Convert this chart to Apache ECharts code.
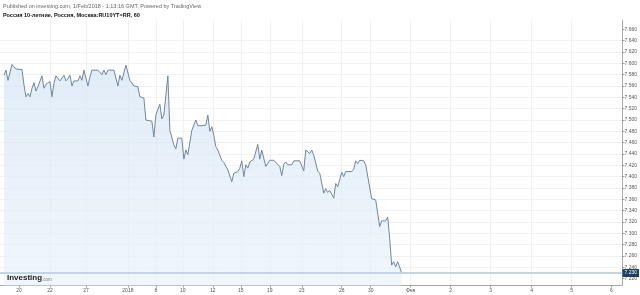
<!DOCTYPE html>
<html><head><meta charset="utf-8">
<script src="https://cdn.jsdelivr.net/npm/echarts@6/dist/echarts.min.js"></script>
<style>html,body{margin:0;padding:0;background:#fff}#c{width:640px;height:295px}</style>
</head><body><div id="c"></div>
<script>
// hourly bar index and yield value (RU10YT=RR, 60)
const barIndex = [2,3,4,6,7,8,11,12,13,14,15,16,17,18,19,21,22,23,25,26,27,28,30,31,32,33,34,35,36,37,39,40,41,42,43,44,45,46,49,51,52,53,54,57,59,60,61,63,65,66,67,69,70,72,73,76,77,78,80,81,82,83,84,85,87,88,89,91,92,93,94,95,96,98,99,101,103,104,105,106,107,108,109,111,112,114,116,117,119,120,121,122,123,124,125,127,128,129,130,131,132,133,135,137,138,140,141,142,143,144,146,147,150,152,153,155,156,157,159,160,162,163,164,165,167,168,169,171,172,173,176,177,178,179,180,182,183,184,186,188,190,191,193,194,195,196,197,198,199,201];
const yieldValues = [7.579,7.588,7.570,7.598,7.597,7.590,7.589,7.562,7.541,7.547,7.541,7.556,7.566,7.551,7.559,7.578,7.556,7.563,7.568,7.541,7.565,7.578,7.569,7.570,7.579,7.569,7.573,7.579,7.560,7.569,7.569,7.578,7.570,7.588,7.585,7.560,7.576,7.588,7.588,7.580,7.588,7.580,7.588,7.588,7.560,7.579,7.570,7.597,7.570,7.568,7.560,7.559,7.541,7.539,7.500,7.498,7.470,7.509,7.528,7.502,7.509,7.512,7.578,7.482,7.456,7.449,7.468,7.468,7.431,7.447,7.439,7.441,7.482,7.500,7.490,7.490,7.491,7.509,7.480,7.488,7.473,7.453,7.447,7.429,7.425,7.412,7.391,7.406,7.409,7.415,7.428,7.400,7.421,7.415,7.426,7.431,7.431,7.457,7.431,7.447,7.447,7.418,7.429,7.429,7.428,7.418,7.402,7.422,7.426,7.421,7.421,7.428,7.428,7.410,7.447,7.441,7.447,7.438,7.410,7.406,7.371,7.379,7.372,7.376,7.362,7.388,7.382,7.408,7.400,7.409,7.409,7.413,7.428,7.423,7.429,7.428,7.421,7.421,7.361,7.359,7.312,7.322,7.322,7.329,7.291,7.244,7.250,7.241,7.250,7.230];
const xTickPos = [9.5,25,43,64,78,91.5,106.5,120.5,135,151,171,185.5,205.5,225.5,245.5,266,286,306];
const xTickLabels = ['20','22','27','2018','8','10','12','15','19','23','26','30','Фев','2','3','4','5','6'];
const yTickValues = [7.22,7.24,7.26,7.28,7.30,7.32,7.34,7.36,7.38,7.40,7.42,7.44,7.46,7.48,7.50,7.52,7.54,7.56,7.58,7.60,7.62,7.64,7.66];
const lastPrice = 7.230;

const seriesData = barIndex.map((b, i) => [b, yieldValues[i]]);
const chart = echarts.init(document.getElementById('c'), null, {renderer: 'canvas'});
const font = '"Liberation Sans", Arial, sans-serif';
chart.setOption({
  animation: false,
  backgroundColor: '#fff',
  grid: {left: 0, top: 20, width: 623, height: 265.5, containLabel: false},
  xAxis: {
    type: 'value', min: 0, max: 311.5,
    axisLine: {show: true, onZero: false, lineStyle: {color: '#a8a8a8', width: 1}},
    axisTick: {show: true, customValues: xTickPos, length: 2, lineStyle: {color: '#999'}},
    axisLabel: {
      customValues: xTickPos, fontSize: 5, color: '#555', margin: 3, fontFamily: font,
      formatter: v => { const i = xTickPos.indexOf(v); return i >= 0 ? xTickLabels[i] : ''; }
    },
    splitLine: {show: true, showMinLine: false, showMaxLine: false, lineStyle: {color: '#f1f1f1', width: 1}}
  },
  yAxis: {
    type: 'value', position: 'right', min: 7.208, max: 7.6765,
    axisLine: {show: true, onZero: false, lineStyle: {color: '#a8a8a8', width: 1}},
    axisTick: {show: true, customValues: yTickValues, length: 2, lineStyle: {color: '#999'}},
    axisLabel: {
      customValues: yTickValues, fontSize: 5, color: '#555', margin: 2, fontFamily: font,
      formatter: v => v.toFixed(3)
    },
    splitLine: {show: true, showMinLine: false, showMaxLine: false, lineStyle: {color: '#f1f1f1', width: 1}}
  },
  series: [{
    type: 'line', data: seriesData, symbol: 'none', smooth: false,
    lineStyle: {color: '#6f879f', width: 1},
    areaStyle: {origin: 'start', color: new echarts.graphic.LinearGradient(0, 0, 0, 1, [
      {offset: 0, color: '#d6e5f4'}, {offset: 1, color: '#e9f2fb'}])},
    markLine: {
      silent: true, symbol: ['none', 'none'], animation: false,
      lineStyle: {color: '#c3d4e4', width: 2, type: 'solid'},
      label: {show: true, position: 'end', distance: 0, formatter: lastPrice.toFixed(3),
        backgroundColor: '#1f3d63', color: '#fff', fontSize: 5, padding: [2, 2, 1, 2], fontFamily: font},
      data: [{yAxis: lastPrice}]
    }
  }],
  graphic: [
    {type: 'text', z: 100, left: 3, top: 3, style: {text: 'Published on investing.com, 1/Feb/2018 - 1:13:16 GMT, Powered by TradingView', fontSize: 5.5, fill: '#666', fontFamily: font}},
    {type: 'text', z: 100, left: 3, top: 12, style: {text: 'Россия 10-летние, Россия, Москва:RU10YT=RR, 60', fontSize: 5.5, fontWeight: 'bold', fill: '#111', fontFamily: font}},
    {type: 'text', z: 100, left: 7, top: 274, style: {text: 'Investing', fontSize: 8, fontWeight: 'bold', fill: '#1a1a1a', fontFamily: font}},
    {type: 'text', z: 100, left: 42, top: 277.5, style: {text: '.com', fontSize: 4.5, fill: '#777', fontFamily: font}}
  ]
});
</script></body></html>
